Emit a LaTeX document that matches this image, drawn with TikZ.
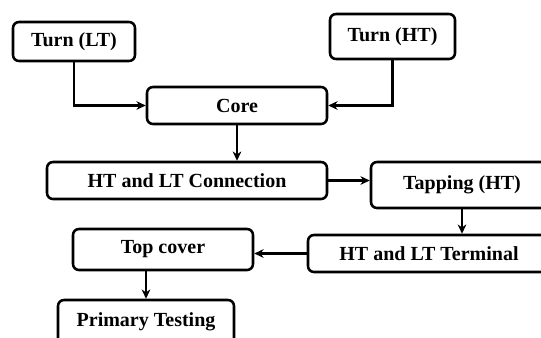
\documentclass[tikz,border=0pt]{standalone}
\usepackage{fontspec}
\setmainfont{Liberation Serif}
\usetikzlibrary{arrows.meta,positioning,calc}

\begin{document}
\begin{tikzpicture}[
  x=0.75pt, y=-0.75pt,
  b/.style={draw, rounded corners=4.5pt, line width=1.9pt, inner sep=0pt,
    font=\bfseries\fontsize{15}{18}\selectfont},
  e/.style={-{Stealth[length=7pt,width=6.5pt]}, line width=1.9pt}
]
  \useasboundingbox (0,0) rectangle (541,337);
  \node[b, minimum width=122*0.75pt, minimum height=39*0.75pt] (tlt) at (74,41.5) {Turn (LT)};
  \node[b, minimum width=125*0.75pt, minimum height=45*0.75pt] (tht) at (392.5,36.5) {Turn (HT)};
  \node[b, minimum width=180*0.75pt, minimum height=37*0.75pt] (core) at (237,105.5) {Core};
  \node[b, minimum width=280*0.75pt, minimum height=37*0.75pt] (conn) at (187,180.5) {HT and LT Connection};
  \node[b, minimum width=182*0.75pt, minimum height=46*0.75pt] (tap) at (462,185) {Tapping (HT)};
  \node[b, minimum width=242*0.75pt, minimum height=37*0.75pt] (term) at (429,253.5) {HT and LT Terminal};
  \node[b, minimum width=180*0.75pt, minimum height=41*0.75pt] (top) at (163,249.5) {Top cover};
  \node[b, minimum width=176*0.75pt, minimum height=44*0.75pt] (prim) at (146,322) {Primary Testing};
  \draw[e] (tlt.south) |- (core.west);
  \draw[e] (tht.south) |- (core.east);
  \draw[e] (core.south) -- (core.south |- conn.north);
  \draw[e] (conn.east) -- (conn.east -| tap.west);
  \draw[e] (tap.south) -- (tap.south |- term.north);
  \draw[e] (term.west) -- (term.west -| top.east);
  \draw[e] (prim.north |- top.south) -- (prim.north);
\end{tikzpicture}
\end{document}
